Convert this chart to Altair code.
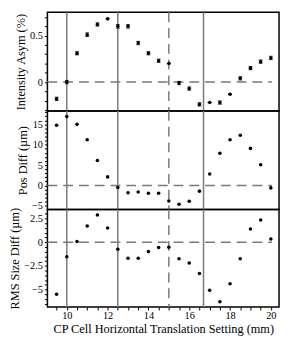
import altair as alt
import pandas as pd

x_vals = [9.5, 10, 10.5, 11, 11.5, 12, 12.5, 13, 13.5, 14, 14.5, 15,
          15.5, 16, 16.5, 17, 17.5, 18, 18.5, 19, 19.5, 20]

asym = [-0.18, 0.0, 0.31, 0.51, 0.62, 0.68, 0.60, 0.60, 0.42, 0.31, 0.23, 0.20,
        -0.01, -0.07, -0.24, -0.22, -0.22, -0.13, 0.04, 0.15, 0.22, 0.26]
asym_err = [0.018, 0.018, 0.018, 0.02, 0.018, 0.0, 0.02, 0.02, 0.018, 0.018, 0.018, 0.0,
            0.018, 0.018, 0.018, 0.0, 0.018, 0.0, 0.018, 0.018, 0.018, 0.018]

pos_diff = [14.8, 16.9, 15.0, 11.2, 6.1, 2.1, -0.5, -1.8, -1.6, -1.9, -1.9, -3.8,
            -4.6, -3.9, -1.4, 2.8, 7.9, 11.2, 12.3, 9.1, 5.1, -0.6]

rms_diff = [-5.5, -1.55, 0.07, 1.7, 2.86, 1.5, -0.76, -1.7, -1.7, -1.0, -0.56, -0.53,
            -1.75, -2.2, -3.3, -5.07, -6.3, -4.4, -1.75, 1.38, 2.34, 0.33]

solid_lines = [10, 12.5, 16.7]
dashed_lines = [15]

x_domain = [9.05, 20.4]
x_ticks = [v / 2 for v in range(19, 41)]

FONT = "Liberation Serif"
GREY = "#7a7a7a"
W = 235


def frange(a, b, step):
    out = []
    v = a
    while v <= b + 1e-9:
        out.append(round(v, 4) + 0.0)
        v += step
    return out


def panel(df, field, title, ydomain, minor, major, height, bottom=False, err=False):
    ticks = frange(minor[0], minor[1], minor[2])
    xscale = alt.Scale(domain=x_domain, nice=False, zero=False)
    yscale = alt.Scale(domain=ydomain, nice=False, zero=False)
    yaxis = alt.Axis(
        values=ticks,
        labelExpr=f"abs(datum.value/{major} - round(datum.value/{major})) < 0.001 ? format(datum.value, '~g') : ''",
        ticks=True, tickSize=3, tickColor="black", tickWidth=1,
        domain=False, grid=False, labelPadding=2,
        labelOverlap=False, labelFlush=False,
        title=title, titleFontSize=12.5, titlePadding=2,
        labelFontSize=10.5,
    )
    if bottom:
        xaxis = alt.Axis(values=x_ticks,
                         labelExpr="datum.value % 2 == 0 ? format(datum.value, '~g') : ''",
                         ticks=True, tickSize=3, tickColor="black", tickWidth=1,
                         domain=False, grid=False,
                         labelOverlap=False, labelFlush=False,
                         labelPadding=1, labelFontSize=10.5,
                         title="CP Cell Horizontal Translation Setting (mm)",
                         titleFontSize=12.5, titlePadding=1)
    else:
        xaxis = alt.Axis(values=x_ticks, labels=False, ticks=False,
                         domain=False, grid=False, title=None)

    X = lambda f: alt.X(f, type="quantitative", scale=xscale, axis=xaxis)
    Y = lambda f: alt.Y(f, type="quantitative", scale=yscale, axis=yaxis)

    base = alt.Chart(df)
    solid = alt.Chart(pd.DataFrame({"v": solid_lines})).mark_rule(
        color=GREY, strokeWidth=1.5).encode(x=X("v"))
    dashed = alt.Chart(pd.DataFrame({"v": dashed_lines})).mark_rule(
        color=GREY, strokeWidth=1.5, strokeDash=[10, 6]).encode(x=X("v"))
    zero = alt.Chart(pd.DataFrame({"x": [9.05], "x2": [20.05], "y": [0]})).mark_rule(
        color=GREY, strokeWidth=1.5, strokeDash=[10, 6]).encode(
        x=X("x"), x2="x2:Q", y=Y("y"))
    layers = [solid, dashed, zero]
    if err:
        bars = base.mark_rule(color="black", strokeWidth=1).encode(
            x=X("x"), y=Y("lo"), y2="hi:Q")
        cap_lo = base.mark_tick(color="black", size=4, thickness=1, orient="horizontal").encode(
            x=X("x"), y=Y("lo"))
        cap_hi = base.mark_tick(color="black", size=4, thickness=1, orient="horizontal").encode(
            x=X("x"), y=Y("hi"))
        layers += [bars, cap_lo, cap_hi]
    pts = base.mark_circle(color="black", size=13, opacity=1).encode(
        x=X("x"), y=Y(field))
    layers.append(pts)
    return alt.layer(*layers).properties(width=W, height=height)


df_top = pd.DataFrame({"x": x_vals, "asym": asym, "err": asym_err})
df_top["lo"] = df_top["asym"] - df_top["err"]
df_top["hi"] = df_top["asym"] + df_top["err"]
df_mid = pd.DataFrame({"x": x_vals, "pos": pos_diff})
df_bot = pd.DataFrame({"x": x_vals, "rms": rms_diff})

top = panel(df_top, "asym", "Intensity Asym (%)", [-0.31, 0.75], (-0.3, 0.7, 0.1), 0.5, 100, err=True)
mid = panel(df_mid, "pos", "Pos Diff (µm)", [-5.9, 18.3], (-5, 18, 1), 5, 100)
bot = panel(df_bot, "rms", "RMS Size Diff (µm)", [-6.85, 3.45], (-6.5, 3, 0.5), 2.5, 99, bottom=True)

chart = alt.vconcat(top, mid, bot, spacing=0, bounds="flush").properties(
    padding={"left": 0, "top": 0, "right": 1, "bottom": 0}
).configure_view(stroke="black", strokeWidth=1.5).configure_axis(
    labelFont=FONT, titleFont=FONT, labelColor="black", titleColor="black",
    titleFontWeight="normal"
)

chart.save("out.html", embed_options={"renderer": "svg", "actions": False})
